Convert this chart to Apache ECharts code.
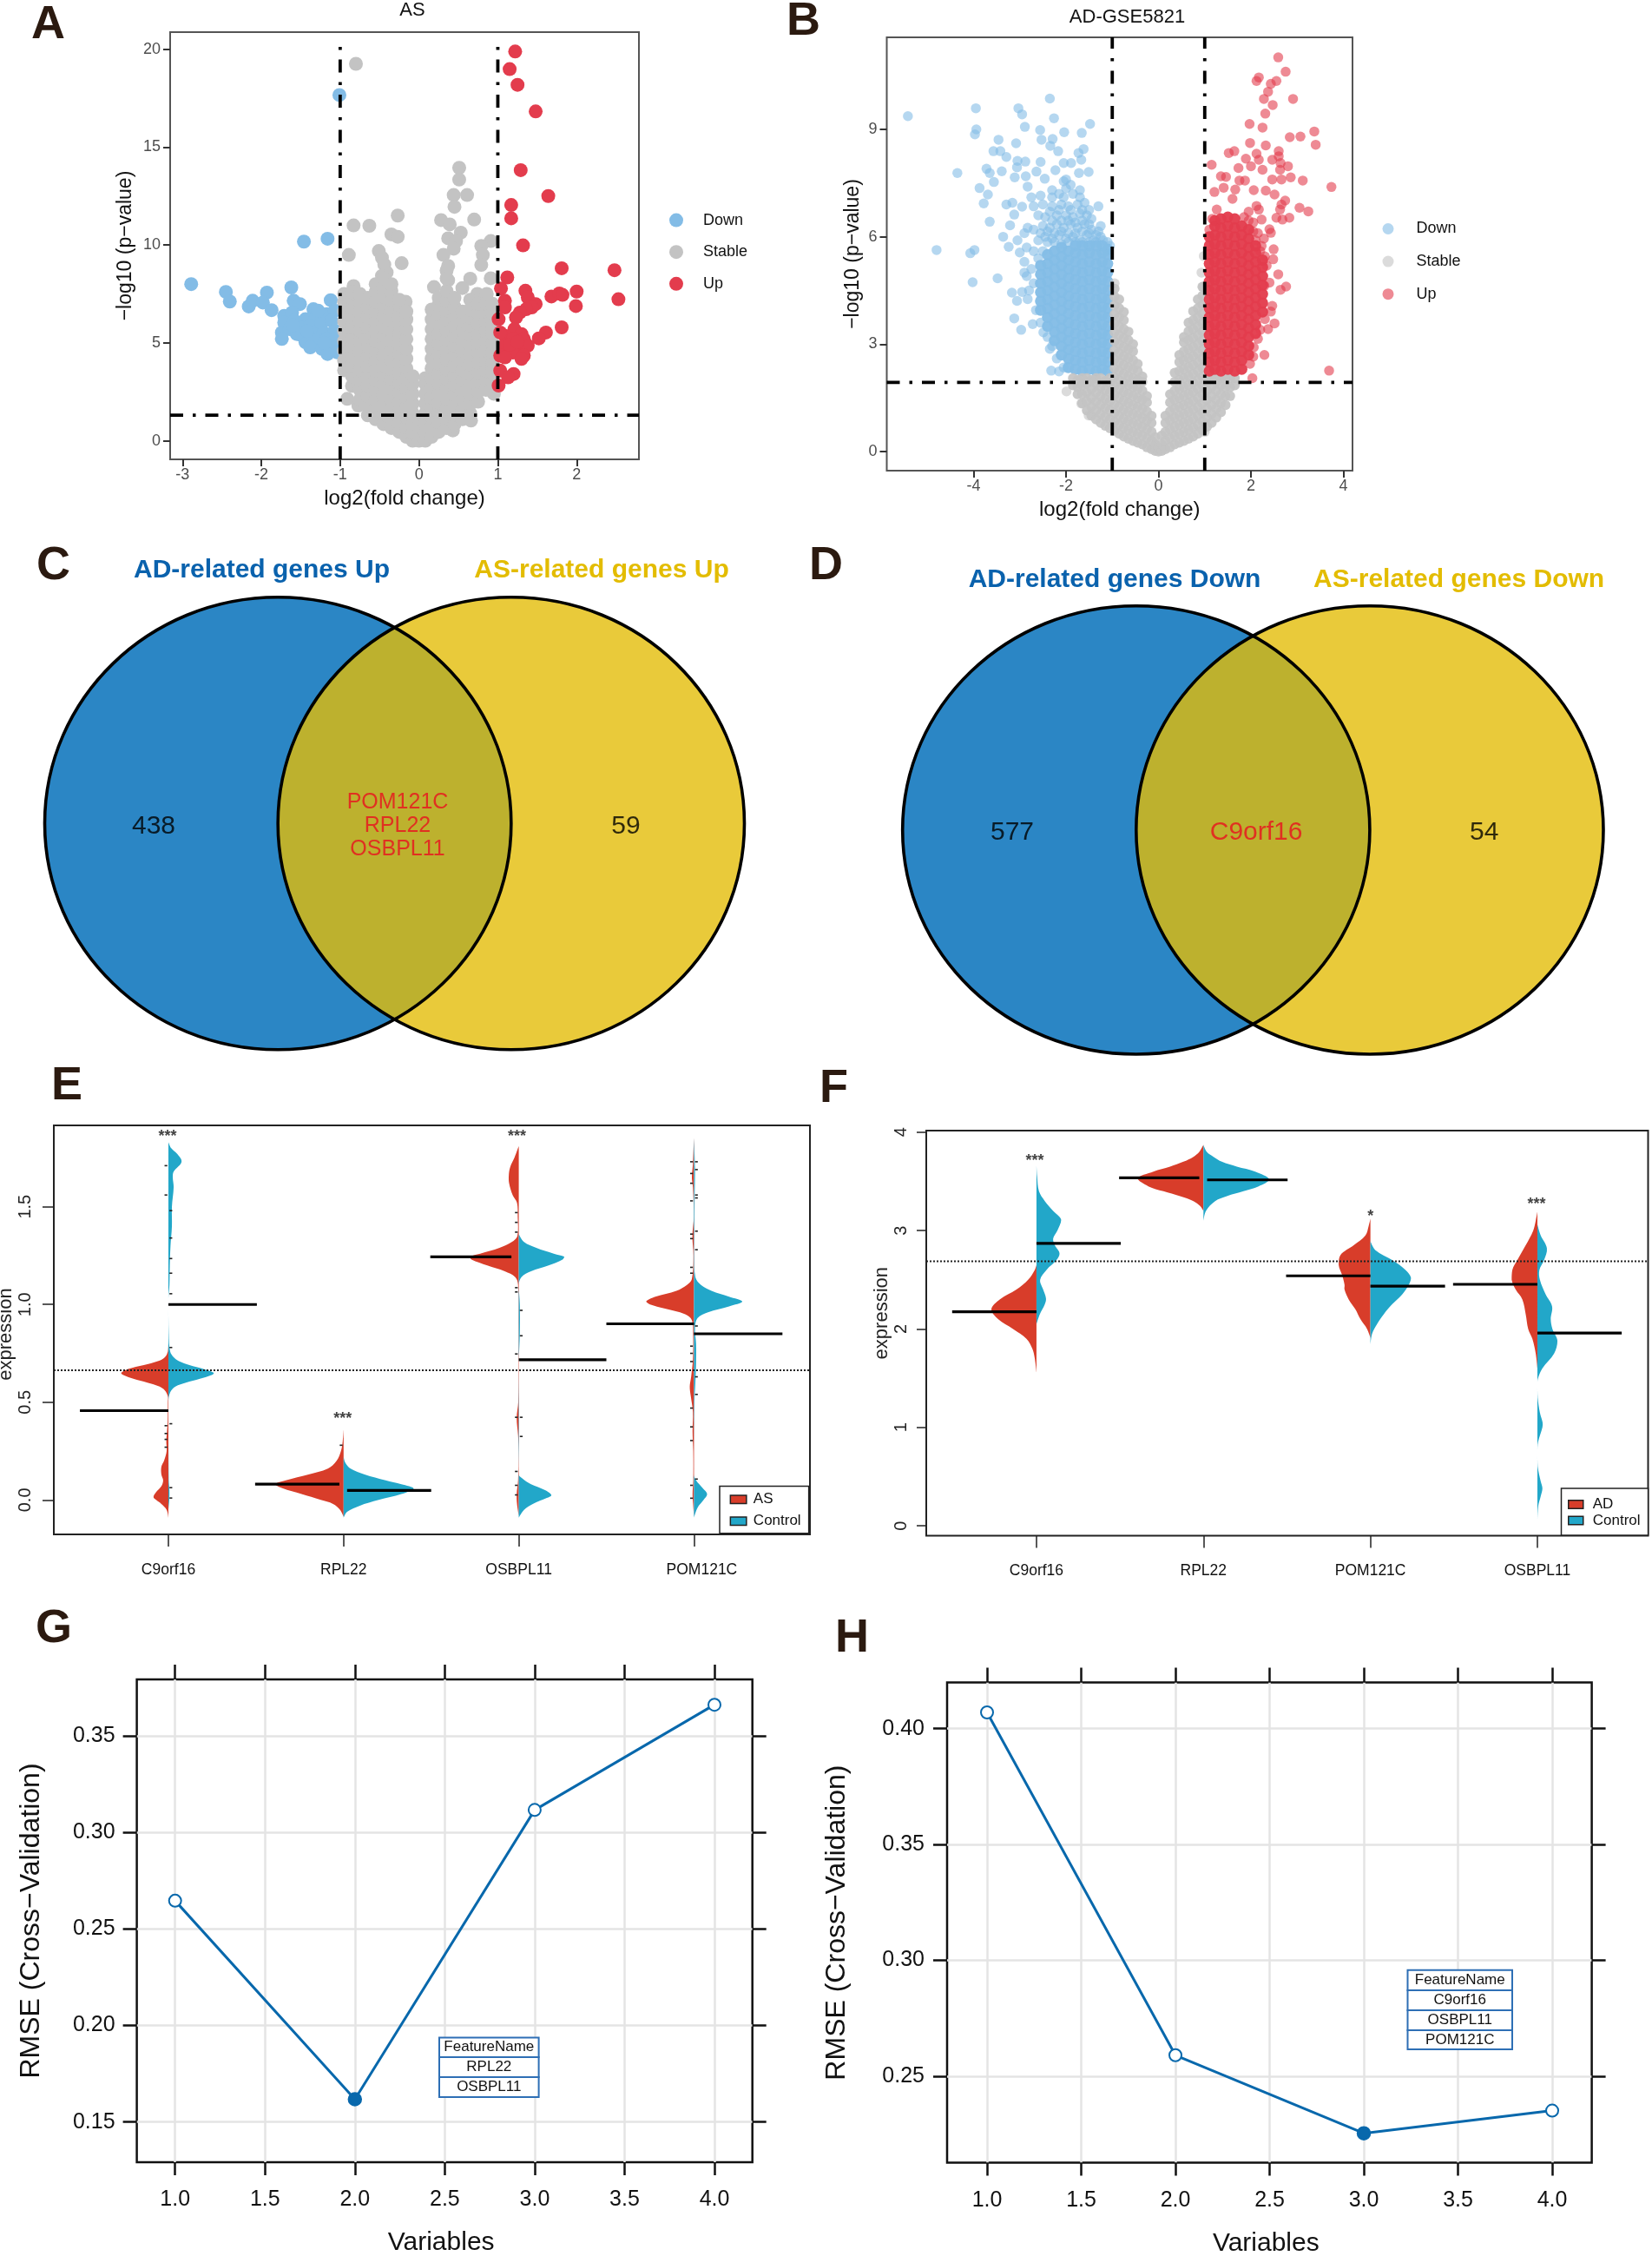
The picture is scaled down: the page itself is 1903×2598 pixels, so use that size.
<!DOCTYPE html>
<html><head><meta charset="utf-8">
<style>html,body{margin:0;padding:0;background:#fff}#c{width:1903px;height:2598px}</style>
<script src="https://cdn.jsdelivr.net/npm/echarts@6/dist/echarts.min.js"></script>
</head><body><div id="c"></div>
<script>
// ---------- Panel A data ----------
const aDown=[[-2.89,8.0],[-2.45,7.6],[-2.4,7.11],[-2.16,6.86],[-2.11,7.15],[-1.93,7.57],[-1.98,7.06],[-1.87,6.67],[-1.62,7.83],[-1.46,10.17],[-1.16,10.32],[-1.01,17.66],[-1.12,7.18],[-1.59,7.15],[-1.51,6.98],[-1.34,6.72],[-1.71,6.38],[-1.61,6.55],[-1.71,6.04],[-1.58,6.13],[-1.44,6.21],[-1.31,6.3],[-1.17,6.47],[-1.07,6.64],[-1.74,5.53],[-1.64,5.7],[-1.51,5.79],[-1.38,5.87],[-1.24,5.96],[-1.11,6.13],[-1.74,5.2],[-1.48,5.36],[-1.34,5.45],[-1.21,5.53],[-1.07,5.62],[-1.44,5.03],[-1.31,5.11],[-1.17,5.2],[-1.38,4.77],[-1.23,4.69],[-1.09,4.86],[-1.16,4.43],[-1.04,4.52],[-1.55,5.45],[-1.6,5.9],[-1.28,6.65],[-1.05,5.2],[-1.2,5.0],[-1.42,5.6]];
const aUp=[[1.22,19.88],[1.15,18.98],[1.25,18.18],[1.48,16.82],[1.29,13.82],[1.64,12.5],[1.17,12.04],[1.17,11.36],[1.32,9.98],[1.81,8.81],[2.48,8.71],[1.12,8.34],[1.04,7.78],[2.53,7.23],[2.0,7.62],[1.99,6.88],[1.68,7.37],[1.78,7.52],[1.82,7.45],[1.35,7.66],[1.38,7.32],[1.09,7.15],[1.09,6.81],[1.48,6.98],[1.43,6.81],[1.36,6.72],[1.28,6.55],[1.23,6.3],[1.01,6.21],[1.81,5.79],[1.61,5.53],[1.52,5.23],[1.21,5.7],[1.3,5.45],[1.09,5.36],[1.03,5.53],[1.19,5.2],[1.33,5.2],[1.38,4.86],[1.09,4.86],[1.26,4.6],[1.19,4.5],[1.33,4.35],[1.03,4.35],[1.09,4.26],[1.3,4.18],[1.03,3.58],[1.2,3.41],[1.13,3.24],[1.01,2.82],[1.15,4.9],[1.25,5.05]];
const aStableSparse=[[-0.8,19.25],[0.51,13.94],[0.51,13.34],[0.44,12.55],[0.61,12.55],[0.45,11.95],[-0.27,11.5],[-0.83,11.0],[-0.63,10.98],[0.7,11.3],[0.28,11.27],[0.39,11.05],[0.53,10.63],[-0.35,10.54],[-0.27,10.42],[0.37,10.34],[0.47,10.2],[0.91,10.2],[0.79,9.95],[0.44,9.81],[-0.51,9.69],[-0.89,9.49],[0.31,9.49],[0.81,9.49],[-0.47,9.35],[-0.22,9.07],[0.79,8.98],[-0.44,9.0],[0.37,8.93],[0.35,8.7],[-0.41,8.6],[-0.47,8.42],[0.65,8.28],[0.91,8.3],[-0.83,7.9],[-0.3,7.2],[0.55,7.8],[0.37,8.2],[0.19,7.85],[0.74,7.5],[0.86,7.5],[-0.17,7.1],[-0.91,2.14],[-0.77,1.8],[0.66,1.03],[0.43,0.53],[0.95,2.4],[0.65,7.2]];
const aStableCols=[
[-0.95,[3.6,4.1,4.6,5.1,5.6,6.1,6.6,7.1,7.5]],
[-0.85,[2.8,3.3,3.8,4.3,4.8,5.3,5.8,6.3,6.8,7.3,7.6]],
[-0.75,[2.1,2.6,3.1,3.6,4.1,4.6,5.1,5.6,6.1,6.6,7.1,7.5]],
[-0.65,[1.3,1.8,2.3,2.8,3.3,3.8,4.3,4.8,5.3,5.8,6.3,6.8,7.3]],
[-0.55,[1.1,1.6,2.1,2.6,3.1,3.6,4.1,4.6,5.1,5.6,6.1,6.6,7.1,7.6,8.0]],
[-0.45,[0.85,1.35,1.85,2.35,2.85,3.35,3.85,4.35,4.85,5.35,5.85,6.35,6.85,7.35,7.85,8.3]],
[-0.35,[0.65,1.15,1.65,2.15,2.65,3.15,3.65,4.15,4.65,5.15,5.65,6.15,6.65,7.15,7.65,8.0]],
[-0.25,[0.45,0.95,1.45,1.95,2.45,2.95,3.45,3.95,4.45,4.95,5.45,5.95,6.45,6.95,7.2]],
[-0.16,[0.2,0.7,1.2,1.7,2.2,2.7,3.2,3.7,4.2,4.7,5.2,5.7,6.2,6.6]],
[-0.08,[0,0.4,0.9,1.4,1.9,2.4,2.9,3.3]],
[0,[0,0.3,0.7,1.1]],
[0.08,[0,0.4,0.9,1.4,1.9,2.4,2.9,3.2]],
[0.16,[0.2,0.7,1.2,1.7,2.2,2.7,3.2,3.7,4.2,4.7,5.2,5.7,6.2,6.7]],
[0.25,[0.45,0.95,1.45,1.95,2.45,2.95,3.45,3.95,4.45,4.95,5.45,5.95,6.45,6.95,7.3]],
[0.35,[0.65,1.15,1.65,2.15,2.65,3.15,3.65,4.15,4.65,5.15,5.65,6.15,6.65,7.15,7.65,8.3]],
[0.45,[0.85,1.35,1.85,2.35,2.85,3.35,3.85,4.35,4.85,5.35,5.85,6.35,6.85,7.3]],
[0.55,[1.1,1.6,2.1,2.6,3.1,3.6,4.1,4.6,5.1,5.6,6.1,6.6]],
[0.65,[1.4,1.9,2.4,2.9,3.4,3.9,4.4,4.9,5.4,5.9,6.3,6.7]],
[0.75,[2.0,2.5,3.0,3.5,4.0,4.5,5.0,5.5,6.0,6.5,7.0]],
[0.85,[2.6,3.1,3.6,4.1,4.6,5.1,5.6,6.1,6.6,7.0]],
[0.93,[3.0,3.5,4.0,4.5,5.0,5.5,6.0,6.5,7.0]]];
const aThresholdX=[-1,1], aThresholdY=[1.31];
const aTicksX=[-3,-2,-1,0,1,2], aTicksY=[0,5,10,15,20];
// ---------- Panel B data ----------
const bDownSparse=[[-5.42,9.37],[-3.95,9.59],[-3.03,9.59],[-2.95,9.42],[-2.35,9.86],[-2.26,9.31],[-1.48,9.15],[-2.89,9.07],[-3.94,9.0],[-3.97,8.86],[-2.56,8.98],[-2.04,8.92],[-1.66,8.9],[-2.53,8.71],[-2.29,8.73],[-3.46,8.71],[-3.08,8.61],[-2.34,8.54],[-1.62,8.45],[-3.57,8.39],[-3.42,8.39],[-3.29,8.23],[-2.17,8.39],[-1.73,8.34],[-2.55,8.09],[-2.88,8.1],[-3.05,8.12],[-2.05,8.06],[-1.67,8.15],[-1.89,8.06],[-3.72,7.9],[-3.65,7.78],[-3.39,7.83],[-4.35,7.78],[-3.06,7.94],[-2.64,7.82],[-2.87,7.69],[-2.23,7.86],[-1.72,7.78],[-1.51,7.81],[-3.56,7.53],[-3.11,7.66],[-2.46,7.62],[-2.0,7.6],[-2.83,7.4],[-3.87,7.36],[-3.69,7.18],[-3.78,6.93],[-3.29,6.9],[-3.16,6.95],[-2.95,6.84],[-3.65,6.42],[-3.12,6.62],[-3.21,6.32],[-2.83,6.25],[-3.36,6.0],[-3.24,5.72],[-4.8,5.63],[-3.98,5.63],[-4.07,5.54],[-3.0,5.56],[-3.48,4.84],[-4.02,4.73],[-3.17,4.44],[-2.95,4.46],[-3.06,4.21],[-2.83,4.26],[-3.12,3.72],[-2.97,3.4],[-2.72,3.56],[-2.49,3.33],[-2.35,2.87],[-2.32,2.26],[-2.15,2.24],
[-2.6,5.9],[-2.45,6.0],[-2.3,5.95],[-2.15,6.05],[-2.0,5.95],[-1.85,6.0],[-1.7,5.9],[-1.55,6.05],[-1.4,5.9],[-1.25,6.0],[-1.1,5.85],[-2.7,6.2],[-2.5,6.3],[-2.35,6.25],[-2.2,6.35],[-2.05,6.25],[-1.9,6.35],[-1.75,6.25],[-1.6,6.35],[-1.45,6.2],[-1.3,6.15],[-2.6,6.6],[-2.45,6.55],[-2.2,6.6],[-2.0,6.6],[-1.85,6.55],[-1.7,6.65],[-1.55,6.6],[-1.45,6.5],[-2.7,6.85],[-2.5,6.9],[-2.3,6.85],[-2.1,6.9],[-1.95,6.85],[-1.75,6.9],[-1.6,6.95],[-1.3,6.85],[-2.55,7.15],[-2.3,7.1],[-2.15,7.2],[-2.05,7.1],[-1.85,7.2],[-1.7,7.1],[-2.0,7.35],[-1.9,7.45],[-2.05,7.55],[-2.3,7.3],[-1.7,7.3],[-2.75,7.1],[-2.9,6.1],[-3.05,5.9],[-2.85,5.7],[-2.7,5.6],[-2.9,5.3],[-2.75,5.1],[-2.85,4.9],[-2.7,4.7],[-2.8,4.5],[-2.9,5.0],[-2.6,5.4],[-2.5,5.6],[-2.65,3.95],[-2.55,3.6],[-2.4,3.2],[-2.3,2.95],[-2.2,2.6],[-2.05,2.35],
[-2.4,5.85],[-2.25,5.85],[-2.1,5.8],[-1.95,5.85],[-1.8,5.85],[-1.65,5.85],[-1.5,5.85],[-1.35,5.85],[-1.2,5.9],[-1.05,5.75],[-2.55,6.1],[-2.4,6.15],[-2.25,6.1],[-2.1,6.15],[-1.95,6.1],[-1.8,6.1],[-1.65,6.15],[-1.5,6.1],[-1.35,6.05],[-2.3,6.45],[-2.1,6.45],[-1.95,6.45],[-1.8,6.4],[-1.65,6.45],[-1.5,6.35],[-1.25,6.3],[-2.35,6.7],[-2.15,6.75],[-1.9,6.75],[-1.65,6.75],[-1.5,6.75]];
const bDownCols=[
[-1.1,[2.25,2.5,2.75,3,3.25,3.5,3.75,4,4.25,4.5,4.75,5,5.25,5.5,5.65]],
[-1.22,[2.3,2.55,2.8,3.05,3.3,3.55,3.8,4.05,4.3,4.55,4.8,5.05,5.3,5.55,5.75]],
[-1.35,[2.25,2.5,2.75,3,3.25,3.5,3.75,4,4.25,4.5,4.75,5,5.25,5.5,5.75]],
[-1.5,[2.3,2.55,2.8,3.05,3.3,3.55,3.8,4.05,4.3,4.55,4.8,5.05,5.3,5.55,5.75]],
[-1.65,[2.25,2.5,2.75,3,3.25,3.5,3.75,4,4.25,4.5,4.75,5,5.25,5.5,5.75]],
[-1.8,[2.3,2.55,2.8,3.05,3.3,3.55,3.8,4.05,4.3,4.55,4.8,5.05,5.3,5.55,5.75]],
[-1.95,[2.35,2.6,2.85,3.1,3.35,3.6,3.85,4.1,4.35,4.6,4.85,5.1,5.35,5.6]],
[-2.1,[2.7,2.95,3.2,3.45,3.7,3.95,4.2,4.45,4.7,4.95,5.2,5.45,5.7]],
[-2.25,[3.1,3.35,3.6,3.85,4.1,4.35,4.6,4.85,5.1,5.35,5.6]],
[-2.4,[3.5,3.75,4.0,4.25,4.5,4.75,5.0,5.25,5.5]],
[-2.55,[3.95,4.2,4.45,4.7,4.95,5.2]]];
const bUpSparse=[[2.59,11.01],[2.75,10.61],[2.17,10.45],[2.12,10.35],[2.55,10.35],[2.43,10.27],[2.37,10.05],[2.28,9.85],[2.91,9.85],[2.47,9.68],[2.31,9.44],[1.97,9.15],[2.25,9.05],[3.37,8.94],[2.84,8.78],[3.07,8.8],[1.98,8.62],[3.4,8.57],[2.32,8.55],[2.6,8.39],[1.52,8.34],[1.64,8.39],[2.12,8.32],[2.6,8.25],[1.89,8.18],[2.46,8.15],[2.17,8.15],[2.64,8.06],[1.15,8.01],[2.8,7.97],[1.73,7.92],[2.0,7.97],[2.25,7.87],[2.63,7.87],[1.35,7.69],[1.46,7.67],[2.86,7.66],[2.46,7.6],[3.12,7.57],[1.75,7.57],[1.87,7.57],[2.66,7.6],[3.74,7.39],[1.21,7.25],[1.41,7.37],[2.06,7.3],[2.32,7.29],[1.66,7.32],[2.51,7.18],[1.6,7.06],[2.74,7.01],[2.66,6.9],[2.12,6.86],[3.05,6.81],[3.24,6.71],[1.26,6.76],[2.17,6.76],[2.63,6.76],[2.55,6.53],[2.83,6.53],[2.68,6.48],[2.23,6.48],[2.4,6.21],[2.43,6.11],[2.49,5.65],[2.48,5.37],[2.23,5.74],[2.59,4.95],[2.76,4.61],[2.64,4.52],[2.46,4.07],[2.43,3.91],[2.51,3.58],[2.37,3.42],[2.06,2.91],[2.29,2.7],[3.69,2.26],[2.03,2.05],[2.34,5.19],[2.29,4.63],[2.4,4.72],[2.1,5.9],[2.2,5.6],[2.3,5.45],[2.05,6.15],[1.95,6.45],[2.05,6.4],[1.85,6.55],[1.95,6.7],[1.1,6.2],[1.16,6.5],[2.15,6.1],[2.28,5.95],[2.15,3.15],[2.2,3.4],[2.3,3.7],[2.05,2.65],[1.98,2.45]];
const bUpCols=[
[1.1,[2.25,2.5,2.75,3,3.25,3.5,3.75,4,4.25,4.5,4.75,5,5.25,5.5,5.75,6.0]],
[1.22,[2.3,2.55,2.8,3.05,3.3,3.55,3.8,4.05,4.3,4.55,4.8,5.05,5.3,5.55,5.8,6.05,6.3,6.45]],
[1.35,[2.25,2.5,2.75,3,3.25,3.5,3.75,4,4.25,4.5,4.75,5,5.25,5.5,5.75,6,6.25,6.5]],
[1.5,[2.3,2.55,2.8,3.05,3.3,3.55,3.8,4.05,4.3,4.55,4.8,5.05,5.3,5.55,5.8,6.05,6.3,6.55]],
[1.65,[2.25,2.5,2.75,3,3.25,3.5,3.75,4,4.25,4.5,4.75,5,5.25,5.5,5.75,6,6.25,6.5]],
[1.8,[2.3,2.55,2.8,3.05,3.3,3.55,3.8,4.05,4.3,4.55,4.8,5.05,5.3,5.55,5.8,6.05,6.3]],
[1.95,[2.7,2.95,3.2,3.45,3.7,3.95,4.2,4.45,4.7,4.95,5.2,5.45,5.7,5.95,6.2]],
[2.1,[3.3,3.55,3.8,4.05,4.3,4.55,4.8,5.05,5.3,5.55,5.75]],
[2.25,[3.9,4.15,4.4,4.65,4.9,5.15,5.35]]];
const bStableSparse=[[-1.99,1.68],[-1.67,1.34],[-1.51,1.01],[1.0,0.55],[-0.95,4.7],[0.98,5.46],[0.93,5.0],[0.97,4.6]];
const bStableCols=[
[-1.85,[1.85,2.05]],
[-1.75,[1.6,1.8,2.0]],
[-1.65,[1.35,1.6,1.85,2.05]],
[-1.55,[1.15,1.4,1.65,1.9,2.05]],
[-1.45,[1.0,1.25,1.5,1.75,2.0]],
[-1.35,[0.9,1.15,1.4,1.65,1.9,2.05]],
[-1.25,[0.8,1.05,1.3,1.55,1.8,2.05]],
[-1.15,[0.72,0.97,1.22,1.47,1.72,1.97]],
[-1.05,[0.65,0.9,1.15,1.4,1.65,1.9,2.05]],
[-0.95,[0.58,0.83,1.08,1.33,1.58,1.83,2.08,2.33,2.58,2.83,3.08,3.33,3.58,3.83,4.08,4.33,4.55]],
[-0.85,[0.5,0.75,1,1.25,1.5,1.75,2,2.25,2.5,2.75,3,3.25,3.5,3.75,4,4.25]],
[-0.75,[0.42,0.67,0.92,1.17,1.42,1.67,1.92,2.17,2.42,2.67,2.92,3.17,3.42,3.67,3.9]],
[-0.65,[0.36,0.61,0.86,1.11,1.36,1.61,1.86,2.11,2.36,2.61,2.86,3.11,3.35]],
[-0.55,[0.3,0.55,0.8,1.05,1.3,1.55,1.8,2.05,2.3,2.55,2.8,3.0]],
[-0.45,[0.25,0.5,0.75,1,1.25,1.5,1.75,2,2.25,2.45]],
[-0.35,[0.2,0.45,0.7,0.95,1.2,1.45,1.7,1.95,2.1]],
[-0.25,[0.12,0.37,0.62,0.87,1.12,1.37,1.55]],
[-0.15,[0.07,0.3,0.55,0.8,1.0]],
[-0.07,[0.02,0.2,0.4]],
[0,[0,0.12]],
[0.07,[0.02,0.2,0.45]],
[0.15,[0.07,0.3,0.55,0.8,1.0]],
[0.25,[0.12,0.37,0.62,0.87,1.12,1.37,1.6]],
[0.35,[0.2,0.45,0.7,0.95,1.2,1.45,1.7,1.95,2.2]],
[0.45,[0.25,0.5,0.75,1,1.25,1.5,1.75,2,2.25,2.5,2.7]],
[0.55,[0.3,0.55,0.8,1.05,1.3,1.55,1.8,2.05,2.3,2.55,2.8,3.05,3.2]],
[0.65,[0.36,0.61,0.86,1.11,1.36,1.61,1.86,2.11,2.36,2.61,2.86,3.11,3.36,3.6]],
[0.75,[0.42,0.67,0.92,1.17,1.42,1.67,1.92,2.17,2.42,2.67,2.92,3.17,3.42,3.67,3.92]],
[0.85,[0.5,0.75,1,1.25,1.5,1.75,2,2.25,2.5,2.75,3,3.25,3.5,3.75,4,4.25]],
[0.95,[0.6,0.85,1.1,1.35,1.6,1.85,2.1,2.35,2.6,2.85,3.1,3.35,3.6,3.85,4.1,4.35,4.6]],
[1.05,[0.7,0.95,1.2,1.45,1.7,1.95,2.05]],
[1.15,[0.8,1.05,1.3,1.55,1.8,2.05]],
[1.25,[0.95,1.2,1.45,1.7,1.95,2.05]],
[1.35,[1.1,1.35,1.6,1.85,2.05]],
[1.45,[1.3,1.55,1.8,2.05]],
[1.55,[1.55,1.8,2.05]],
[1.65,[1.85,2.05]]];
const bThresholdX=[-1,1], bThresholdY=[1.93];
const bTicksX=[-4,-2,0,2,4], bTicksY=[0,3,6,9];
// ---------- Panels C, D data ----------
const vennCentres=[0.5,1.0];
const vennRadius=0.5;
const cLabels=[[0.2336,0.494,'438'],[1.246,0.494,'59']];
const cShared=[[0.7565,0.494,'POM121C\nRPL22\nOSBPL11']];
const dLabels=[[0.2347,0.495,'577'],[1.245,0.495,'54']];
const dShared=[[0.757,0.495,'C9orf16']];
// ---------- Panel E data: [value, half-width] ----------
const eGenes=['C9orf16','RPL22','OSBPL11','POM121C'];
const eRef=[0.664];
const eC9As=[[-0.09,0],[-0.05,0.01],[-0.02,0.04],[0,0.07],[0.015,0.085],[0.04,0.07],[0.07,0.04],[0.1,0.03],[0.13,0.04],[0.17,0.04],[0.2,0.025],[0.25,0.01],[0.3,0.012],[0.35,0.008],[0.4,0.004],[0.5,0.003],[0.53,0.003],[0.56,0.02],[0.58,0.05],[0.6,0.12],[0.62,0.2],[0.64,0.26],[0.65,0.27],[0.67,0.23],[0.69,0.14],[0.71,0.06],[0.73,0.02],[0.76,0.003],[0.8,0]];
const eC9Ctl=[[-0.05,0],[0,0.005],[0.05,0.006],[0.1,0.002],[0.5,0],[0.55,0.01],[0.58,0.04],[0.6,0.1],[0.62,0.18],[0.64,0.25],[0.65,0.26],[0.67,0.2],[0.69,0.12],[0.71,0.06],[0.73,0.03],[0.76,0.01],[0.85,0.002],[1.03,0],[1.1,0.006],[1.2,0.008],[1.3,0.012],[1.4,0.02],[1.5,0.02],[1.6,0.03],[1.65,0.025],[1.68,0.03],[1.73,0.075],[1.77,0.05],[1.8,0.015],[1.83,0]];
const eRplAs=[[-0.085,0],[-0.05,0.02],[-0.02,0.06],[0,0.13],[0.03,0.24],[0.06,0.35],[0.08,0.39],[0.1,0.33],[0.13,0.2],[0.16,0.09],[0.2,0.04],[0.25,0.015],[0.3,0.005],[0.36,0]];
const eRplCtl=[[-0.09,0],[-0.06,0.02],[-0.03,0.09],[0,0.2],[0.03,0.33],[0.058,0.4],[0.08,0.33],[0.1,0.24],[0.13,0.12],[0.16,0.04],[0.19,0.01],[0.22,0]];
const eOsbAs=[[-0.08,0],[-0.02,0.01],[0.03,0.012],[0.1,0.004],[0.25,0.001],[0.33,0.004],[0.42,0.012],[0.5,0.003],[0.7,0.002],[0.9,0.002],[1.1,0.004],[1.14,0.02],[1.17,0.08],[1.2,0.18],[1.23,0.27],[1.244,0.28],[1.26,0.22],[1.29,0.11],[1.32,0.04],[1.35,0.008],[1.45,0.006],[1.52,0.01],[1.56,0.035],[1.62,0.055],[1.66,0.057],[1.7,0.05],[1.75,0.025],[1.81,0]];
const eOsbCtl=[[-0.09,0],[-0.05,0.03],[-0.02,0.08],[0.01,0.16],[0.025,0.186],[0.05,0.15],[0.08,0.07],[0.11,0.02],[0.13,0],[0.3,0.002],[0.45,0.002],[0.7,0],[0.85,0.006],[1,0.006],[1.1,0],[1.14,0.015],[1.17,0.07],[1.2,0.17],[1.23,0.25],[1.244,0.26],[1.26,0.2],[1.29,0.1],[1.32,0.03],[1.36,0]];
const ePomAs=[[-0.08,0],[-0.02,0.005],[0.03,0.008],[0.1,0.004],[0.25,0.004],[0.35,0.008],[0.45,0.006],[0.53,0.018],[0.58,0.024],[0.63,0.016],[0.72,0.006],[0.85,0.005],[0.92,0.012],[0.95,0.05],[0.98,0.17],[1,0.25],[1.015,0.273],[1.04,0.22],[1.07,0.1],[1.1,0.04],[1.13,0.012],[1.25,0.003],[1.35,0.009],[1.45,0.001],[1.6,0.006],[1.65,0.012],[1.72,0.006],[1.85,0]];
const ePomCtl=[[-0.09,0],[-0.04,0.02],[0,0.055],[0.03,0.075],[0.06,0.05],[0.1,0.012],[0.13,0],[0.5,0.003],[0.6,0.008],[0.7,0.012],[0.8,0.012],[0.88,0.006],[0.93,0.02],[0.96,0.08],[0.99,0.2],[1.015,0.276],[1.04,0.2],[1.07,0.1],[1.1,0.04],[1.14,0.008],[1.25,0.002],[1.38,0.003],[1.55,0.004],[1.7,0.006],[1.85,0]];
const eBars=[[0.495,1,0.457],[1,1.505,1.0],[1.495,1.976,0.081],[2.02,2.5,0.049],[2.495,2.958,1.244],[3,3.5,0.717],[3.5,4,0.901],[4,4.505,0.85]];
const eStars=[[0.995,1.858,'***'],[1.995,0.415,'***'],[2.99,1.858,'***']];
const eRugAs=[[1,1.71],[1,1.56],[1,0.38],[1,0.34],[1,0.31],[1,0.27],[2,0.28],[3,1.47],[3,1.42],[3,1.37],[3,1.086],[3,1.064],[3,0.747],[3,0.423],[3,0.146],[3,0.075],[3,0.026],[4,1.73],[4,1.67],[4,1.62],[4,1.53],[4,1.36],[4,1.337],[4,1.19],[4,1.16],[4,0.787],[4,0.75],[4,0.708],[4,0.47],[4,0.374],[4,0.304],[4,0.075],[4,0.009]];
const eRugCtl=[[1,1.48],[1,1.34],[1,1.235],[1,1.16],[1,1.055],[1,0.78],[1,0.39],[1,0.063],[1,0.01],[3,0.97],[3,0.84],[3,0.423],[3,0.325],[4,1.73],[4,1.69],[4,1.56],[4,1.545],[4,1.375],[4,1.28],[4,0.89],[4,0.63],[4,0.54],[4,0.107]];
const eTicksY=[0,0.5,1,1.5];
// ---------- Panel F data ----------
const fGenes=['C9orf16','RPL22','POM121C','OSBPL11'];
const fRef=[2.688];
const fC9Ad=[[1.56,0],[1.7,0.01],[1.8,0.025],[1.9,0.06],[2,0.14],[2.1,0.23],[2.2,0.27],[2.3,0.22],[2.4,0.12],[2.5,0.05],[2.6,0.01],[2.65,0]];
const fC9Ctl=[[2.05,0],[2.15,0.02],[2.25,0.05],[2.31,0.057],[2.4,0.04],[2.5,0.022],[2.6,0.06],[2.7,0.12],[2.77,0.138],[2.85,0.11],[2.92,0.1],[3,0.125],[3.11,0.148],[3.2,0.1],[3.3,0.05],[3.4,0.015],[3.55,0.004],[3.66,0]];
const fRplAd=[[3.2,0],[3.25,0.02],[3.3,0.06],[3.35,0.14],[3.4,0.24],[3.45,0.33],[3.53,0.394],[3.6,0.3],[3.65,0.2],[3.7,0.12],[3.75,0.06],[3.8,0.025],[3.87,0]];
const fRplCtl=[[3.1,0],[3.2,0.015],[3.3,0.07],[3.35,0.14],[3.4,0.24],[3.45,0.33],[3.52,0.394],[3.6,0.31],[3.65,0.2],[3.7,0.11],[3.75,0.06],[3.8,0.02],[3.87,0]];
const fPomAd=[[1.91,0],[2,0.02],[2.1,0.06],[2.2,0.09],[2.3,0.13],[2.4,0.155],[2.45,0.155],[2.55,0.17],[2.65,0.19],[2.75,0.18],[2.85,0.1],[2.95,0.03],[3.05,0.01],[3.12,0]];
const fPomCtl=[[1.84,0],[1.95,0.01],[2.05,0.04],[2.15,0.08],[2.25,0.13],[2.35,0.19],[2.45,0.23],[2.52,0.243],[2.6,0.21],[2.7,0.13],[2.8,0.03],[2.89,0]];
const fOsbAd=[[1.6,0],[1.75,0.01],[1.9,0.03],[2,0.055],[2.15,0.07],[2.3,0.09],[2.4,0.13],[2.5,0.154],[2.6,0.15],[2.7,0.12],[2.85,0.07],[3,0.025],[3.1,0.01],[3.19,0]];
const fOsbCtl=[[0.05,0],[0.2,0.005],[0.3,0.02],[0.38,0.03],[0.45,0.02],[0.6,0.002],[0.75,0],[0.85,0.004],[1,0.03],[1.05,0.031],[1.15,0.015],[1.3,0.002],[1.45,0],[1.5,0.004],[1.6,0.03],[1.75,0.1],[1.88,0.12],[2,0.09],[2.1,0.08],[2.23,0.088],[2.35,0.05],[2.5,0.015],[2.6,0.012],[2.7,0.04],[2.82,0.057],[2.95,0.02],[3.06,0]];
const fBars=[[0.495,1,2.175],[1,1.505,2.87],[1.495,1.975,3.536],[2.022,2.504,3.515],[2.495,3,2.54],[3,3.447,2.436],[3.495,4,2.454],[4,4.505,1.958]];
const fStars=[[0.99,3.705,'***'],[3,3.145,'*'],[3.995,3.265,'***']];
const fTicksY=[0,1,2,3,4];
// ---------- Panels G, H data ----------
const gVars=[1,2,3,4], gRmse=[0.2646,0.1618,0.3116,0.3661], gBest=2;
const hVars=[1,2,3,4], hRmse=[0.407,0.2591,0.2254,0.2352], hBest=3;
const rfeTicksX=[1,1.5,2,2.5,3,3.5,4];
const gTicksY=[0.15,0.2,0.25,0.3,0.35], hTicksY=[0.25,0.3,0.35,0.4];
const gFeatures=['FeatureName','RPL22','OSBPL11'], hFeatures=['FeatureName','C9orf16','OSBPL11','POM121C'];

// ---------- styles ----------
const FF='"Liberation Sans",Arial,sans-serif';
const BLUE='#83bce6',GREY='#c3c3c3',RED='#e33c4d',VR='#d83d2a',VB='#22a7c9',LINE='#0868ac';
const flat=cols=>cols.flatMap(([x,ys])=>ys.map(y=>[x,y]));

const grids=[
 {left:196,top:37,width:540,height:492,show:true,borderColor:'#555',borderWidth:2},
 {left:1021.5,top:43,width:536.5,height:499,show:true,borderColor:'#555',borderWidth:2},
 {left:51.5,top:687.8,width:806,height:521},
 {left:1039.7,top:697.7,width:807.3,height:516.3},
 {left:62,top:1296,width:871,height:471,show:true,borderColor:'#222',borderWidth:2},
 {left:1067,top:1302,width:831.5,height:466.4,show:true,borderColor:'#222',borderWidth:2},
 {left:157.6,top:1934,width:709.1,height:556,show:true,borderColor:'#111',borderWidth:2.5},
 {left:1091,top:1937.6,width:742.6,height:553,show:true,borderColor:'#111',borderWidth:2.5}
].map(g=>Object.assign(g,{outerBoundsMode:'none',containLabel:false}));
function ax(g,pos,min,max,ticks,o={}){
 const lab={show:o.label!==false,customValues:ticks,fontFamily:FF,fontSize:o.fs||18,color:o.lc||'#4d4d4d',margin:o.m||10,rotate:o.rot||0,formatter:o.fmt||(v=>String(v)),hideOverlap:false};
 if(o.rich)lab.rich=o.rich;
 return {type:'value',gridIndex:g,position:pos,min,max,scale:true,
  axisLine:{show:false,onZero:false},
  splitLine:o.grid?{show:true,lineStyle:{color:'#e4e4e4',width:2.5}}:{show:false},
  axisTick:{show:true,inside:false,customValues:ticks,length:o.tl||8,lineStyle:{color:o.tc||'#333',width:o.tw||2}},
  axisLabel:lab,
  name:o.name||'',nameLocation:'middle',nameGap:o.ng||30,nameTextStyle:{fontFamily:FF,fontSize:o.nfs||22,color:o.nc||'#111',padding:o.np||0}};
}
function hidden(g,min,max){return {type:'value',gridIndex:g,min,max,show:false};}
const f1=v=>v.toFixed(1), f2=v=>v.toFixed(2);
const xAxes=[
 ax(0,'bottom',-3.157,2.79,aTicksX,{m:9,name:'log2(fold change)',ng:33,nfs:24}),
 ax(1,'bottom',-5.877,4.196,bTicksX,{m:9,name:'log2(fold change)',ng:33,nfs:24}),
 hidden(2,0,1.5),hidden(3,0,1.5),
 ax(4,'bottom',0.346,4.662,[1,2,3,4],{tc:'#222',tl:14,m:32,fs:17.5,lc:'#111',tw:1.5,fmt:v=>v===4?'{p|'+eGenes[3]+'}':eGenes[v-1],rich:{p:{padding:[0,0,0,18],fontFamily:FF,fontSize:17.5,color:'#111'}}}),
 ax(5,'bottom',0.34,4.663,[1,2,3,4],{tc:'#222',tl:14,m:32,fs:17.5,lc:'#111',fmt:v=>fGenes[v-1],tw:1.5}),
 ax(6,'bottom',0.787,4.211,rfeTicksX,{grid:true,tc:'#111',tl:15,tw:2.5,m:31,fs:25,lc:'#111',fmt:f1,name:'Variables',ng:78,nfs:30,np:[0,8,0,0]}),
 ax(7,'bottom',0.788,4.21,rfeTicksX,{grid:true,tc:'#111',tl:15,tw:2.5,m:31,fs:25,lc:'#111',fmt:f1,name:'Variables',ng:78,nfs:30,np:[0,8,0,0]}),
 ax(6,'top',0.787,4.211,rfeTicksX,{label:false,tc:'#111',tl:17,tw:2.5}),
 ax(7,'top',0.788,4.21,rfeTicksX,{label:false,tc:'#111',tl:17,tw:2.5})
];
const yAxes=[
 ax(0,'left',-0.95,20.87,aTicksY,{m:11,name:'\u2212log10 (p\u2212value)',ng:40,nfs:23}),
 ax(1,'left',-0.533,11.57,bTicksY,{m:11,name:'\u2212log10 (p\u2212value)',ng:27,nfs:23}),
 hidden(2,0,1),hidden(3,0,1),
 ax(4,'left',-0.176,1.916,eTicksY,{tc:'#222',tl:13,m:23,fs:20,rot:90,lc:'#222',fmt:f1,tw:1.5,name:'expression',ng:43,nfs:22,nc:'#222',np:[0,10,0,0]}),
 ax(5,'left',-0.1,4.016,fTicksY,{tc:'#222',tl:11,m:19,fs:20,rot:90,lc:'#222',tw:1.5,name:'expression',ng:39,nfs:22,nc:'#222',np:[0,0,0,46]}),
 ax(6,'left',0.1292,0.3792,gTicksY,{grid:true,tc:'#111',tl:16,tw:2.5,m:25,fs:25,lc:'#111',fmt:f2,name:'RMSE (Cross\u2212Validation)',ng:105,nfs:32}),
 ax(7,'left',0.2127,0.4199,hTicksY,{grid:true,tc:'#111',tl:16,tw:2.5,m:26,fs:25,lc:'#111',fmt:f2,name:'RMSE (Cross\u2212Validation)',ng:111,nfs:32}),
 ax(6,'right',0.1292,0.3792,gTicksY,{label:false,tc:'#111',tl:16,tw:2.5}),
 ax(7,'right',0.2127,0.4199,hTicksY,{label:false,tc:'#111',tl:16,tw:2.5})
];

const series=[];
function scatter(i,name,data,color,size,op,z){
 series.push({type:'scatter',name,xAxisIndex:i,yAxisIndex:i,data,symbol:'circle',symbolSize:size,silent:true,z:z||2,
  itemStyle:{color,opacity:op},animation:false,progressive:0,large:false});
}
scatter(0,'Down',aDown,BLUE,16,1,2);
scatter(0,'Stable',aStableSparse.concat(flat(aStableCols)),GREY,16,1,3);
scatter(0,'Up',aUp,RED,16,1,4);
scatter(1,'Down ',bDownSparse,BLUE,11.5,0.6,2);
scatter(1,'Down ',flat(bDownCols),BLUE,13,0.96,2);
scatter(1,'Stable ',bStableSparse,GREY,11.5,0.6,2);
scatter(1,'Stable ',flat(bStableCols),GREY,11.5,0.92,2);
scatter(1,'Up ',bUpSparse,RED,11.5,0.6,3);
scatter(1,'Up ',flat(bUpCols),RED,13,0.96,3);

// threshold rules
function rules(i,xs,ys,xr,yr){
 const data=xs.map(x=>[x,yr[0],x,yr[1]]).concat(ys.map(y=>[xr[0],y,xr[1],y]));
 series.push({type:'custom',xAxisIndex:i,yAxisIndex:i,silent:true,z:6,clip:false,data,dimensions:['x0','y0','x1','y1'],encode:{x:[0,2],y:[1,3]},
  renderItem:(p,api)=>{const a=api.coord([api.value(0),api.value(1)]),b=api.coord([api.value(2),api.value(3)]);
   return {type:'line',shape:{x1:a[0],y1:a[1],x2:b[0],y2:b[1]},style:{stroke:'#000',lineWidth:3.8,lineDash:[15,11,3.5,11]}};}});
}
rules(0,aThresholdX,aThresholdY,[-3.157,2.79],[-0.95,20.5]);
rules(1,bThresholdX,bThresholdY,[-5.877,4.196],[-0.533,11.57]);

// venns
function venn(i,fillL,fillR){
 series.push({type:'custom',xAxisIndex:i,yAxisIndex:i,silent:true,z:2,clip:false,data:vennCentres.map(c=>[c,0.5]),
  renderItem:(p,api)=>{const c=api.coord([api.value(0),api.value(1)]),s=api.size([vennRadius,vennRadius]);
   return {type:'ellipse',shape:{cx:c[0],cy:c[1],rx:s[0],ry:s[1]},style:{fill:p.dataIndex?fillR:fillL}};}});
 series.push({type:'custom',xAxisIndex:i,yAxisIndex:i,silent:true,z:3,clip:false,data:vennCentres.map(c=>[c,0.5]),
  renderItem:(p,api)=>{const c=api.coord([api.value(0),api.value(1)]),s=api.size([vennRadius,vennRadius]);
   return {type:'ellipse',shape:{cx:c[0],cy:c[1],rx:s[0],ry:s[1]},style:{fill:'none',stroke:'#000',lineWidth:3.6}};}});
}
venn(2,'#2b86c5','rgba(227,189,8,0.795)');
venn(3,'#2b86c5','rgba(227,189,8,0.795)');
function labels(i,data,color,fs,lh,w){
 series.push({type:'scatter',xAxisIndex:i,yAxisIndex:i,silent:true,z:5,data,symbolSize:1,itemStyle:{color:'rgba(0,0,0,0)'},
  label:{show:true,position:'inside',formatter:p=>p.value[2],color,fontFamily:FF,fontSize:fs,lineHeight:lh,fontWeight:w||'normal'}});
}
labels(2,cLabels,'#000',30,34);
labels(2,cShared,'#e8101e',25,27);
labels(3,dLabels,'#000',30,34);
labels(3,dShared,'#e8101e',30,34);

// violins
const noClamp=[[Infinity,Infinity],[-Infinity,-Infinity]];
function violin(i,name,pos,side,prof,color){
 series.push({type:'custom',name,xAxisIndex:i,yAxisIndex:i,silent:true,z:3,clip:false,data:[[pos,prof[0][0]]],itemStyle:{color},
  renderItem:(p,api)=>({type:'polygon',shape:{points:prof.map(([y,w])=>api.coord([pos+side*w,y])),smooth:0.35,smoothConstraint:noClamp},style:{fill:color}})});
}
[[eC9As,eC9Ctl],[eRplAs,eRplCtl],[eOsbAs,eOsbCtl],[ePomAs,ePomCtl]].forEach((v,k)=>{violin(4,'AS',k+1,-1,v[0],VR);violin(4,'Control',k+1,1,v[1],VB);});
[[fC9Ad,fC9Ctl],[fRplAd,fRplCtl],[fPomAd,fPomCtl],[fOsbAd,fOsbCtl]].forEach((v,k)=>{violin(5,'AD',k+1,-1,v[0],VR);violin(5,'Control ',k+1,1,v[1],VB);});
function bars(i,data){
 series.push({type:'custom',xAxisIndex:i,yAxisIndex:i,silent:true,z:5,clip:false,data,
  renderItem:(p,api)=>{const a=api.coord([api.value(0),api.value(2)]),b=api.coord([api.value(1),api.value(2)]);
   return {type:'line',shape:{x1:a[0],y1:a[1],x2:b[0],y2:b[1]},style:{stroke:'#000',lineWidth:3.2}};}});
}
bars(4,eBars);bars(5,fBars);
function rug(i,data,side){
 series.push({type:'custom',xAxisIndex:i,yAxisIndex:i,silent:true,z:6,clip:false,data,
  renderItem:(p,api)=>{const a=api.coord([api.value(0)+side*0.006,api.value(1)]),b=api.coord([api.value(0)+side*0.022,api.value(1)]);
   return {type:'line',shape:{x1:a[0],y1:a[1],x2:b[0],y2:b[1]},style:{stroke:'#222',lineWidth:1.6}};}});
}
rug(4,eRugAs,-1);rug(4,eRugCtl,1);
function refLine(i,vals,xr){
 series.push({type:'line',xAxisIndex:i,yAxisIndex:i,silent:true,z:4,symbol:'none',data:[[xr[0],vals[0]],[xr[1],vals[0]]],lineStyle:{color:'#222',width:2,type:[2,2]}});
}
refLine(4,eRef,[0.346,4.662]);refLine(5,fRef,[0.34,4.663]);
labels(4,eStars,'#111',18,18,'bold');labels(5,fStars,'#111',18,18,'bold');

// RFE lines
function rfe(i,xs,ys,best){
 series.push({type:'line',xAxisIndex:i,yAxisIndex:i,silent:true,z:4,data:xs.map((x,k)=>({value:[x,ys[k]],symbol:x===best?'circle':'emptyCircle',symbolSize:14})),
  lineStyle:{color:LINE,width:3},itemStyle:{color:LINE,borderWidth:2.5,borderColor:LINE},showSymbol:true,showAllSymbol:true});
}
rfe(6,gVars,gRmse,gBest);rfe(7,hVars,hRmse,hBest);

// ---------- legends ----------
const trim=n=>n.trim();
const legends=[
 {data:['Down','Stable','Up'],left:771,top:244.6,orient:'vertical',itemWidth:16,itemHeight:16,itemGap:18.6,padding:0,selectedMode:false,formatter:trim,textStyle:{fontFamily:FF,fontSize:18,color:'#111',padding:[0,0,0,18]}},
 {data:['Down ','Stable ','Up '],left:1592.5,top:254.5,orient:'vertical',itemWidth:13,itemHeight:13,itemGap:19.6,padding:0,selectedMode:false,formatter:trim,textStyle:{fontFamily:FF,fontSize:18,color:'#111',padding:[0,0,0,21]}},
 {data:['AS','Control'],left:829,top:1711.5,orient:'vertical',icon:'rect',itemWidth:18.5,itemHeight:9.5,itemGap:8,padding:[6.75,9,5.5,11.6],selectedMode:false,backgroundColor:'#fff',borderColor:'#222',borderWidth:1.5,itemStyle:{borderColor:'#222',borderWidth:1.5},textStyle:{fontFamily:FF,fontSize:17,color:'#111',padding:[0,0,0,3]},z:8},
 {data:['AD','Control '],left:1798.5,top:1714,orient:'vertical',icon:'rect',itemWidth:17,itemHeight:9.5,itemGap:1.5,padding:[10,9,8.5,7.5],selectedMode:false,formatter:trim,backgroundColor:'#fff',borderColor:'#222',borderWidth:1.5,itemStyle:{borderColor:'#222',borderWidth:1.5},textStyle:{fontFamily:FF,fontSize:17,color:'#111',padding:[0,0,0,6]},z:8}
];

// ---------- annotations ----------
const gfx=[];
function txt(x,y,text,fs,fill,o={}){
 gfx.push({type:'text',x,y,z:20,silent:true,style:{text,fontFamily:FF,fontSize:fs,fill,fontWeight:o.w||'normal',align:o.a||'center',verticalAlign:'middle'}});
}
[['A',36,29],['B',906,25],['C',42,652],['D',932,652],['E',59,1251],['F',944,1254],['G',41,1876],['H',962,1887]].forEach(([t,x,y])=>txt(x,y,t,54,'#2b1a10',{w:'bold',a:'left'}));
txt(475,12,'AS',22,'#111');txt(1298.5,20,'AD-GSE5821',22,'#111');
txt(301.5,656.5,'AD-related genes Up',30,'#0a62ad',{w:'bold'});
txt(693,656.5,'AS-related genes Up',30,'#e3bc00',{w:'bold'});
txt(1284,668,'AD-related genes Down',30,'#0a62ad',{w:'bold'});
txt(1680.6,668,'AS-related genes Down',30,'#e3bc00',{w:'bold'});
function table(x0,x1,rows,names){
 names.forEach((n,k)=>{
  gfx.push({type:'rect',z:19,silent:true,shape:{x:x0,y:rows[k],width:x1-x0,height:rows[k+1]-rows[k]},style:{fill:'#fff',stroke:'#2e6fb5',lineWidth:2}});
  txt((x0+x1)/2,(rows[k]+rows[k+1])/2,n,17,'#111');
 });
}
table(506,620.6,[2346.5,2369,2392,2415],gFeatures);
table(1621.5,1742,[2268.7,2292,2315,2338,2360],hFeatures);

const chart=echarts.init(document.getElementById('c'),null,{renderer:'canvas',width:1903,height:2598});
chart.setOption({animation:false,backgroundColor:'#fff',textStyle:{fontFamily:FF},grid:grids,xAxis:xAxes,yAxis:yAxes,series,legend:legends,graphic:{elements:gfx},tooltip:{show:false}});
</script></body></html>
